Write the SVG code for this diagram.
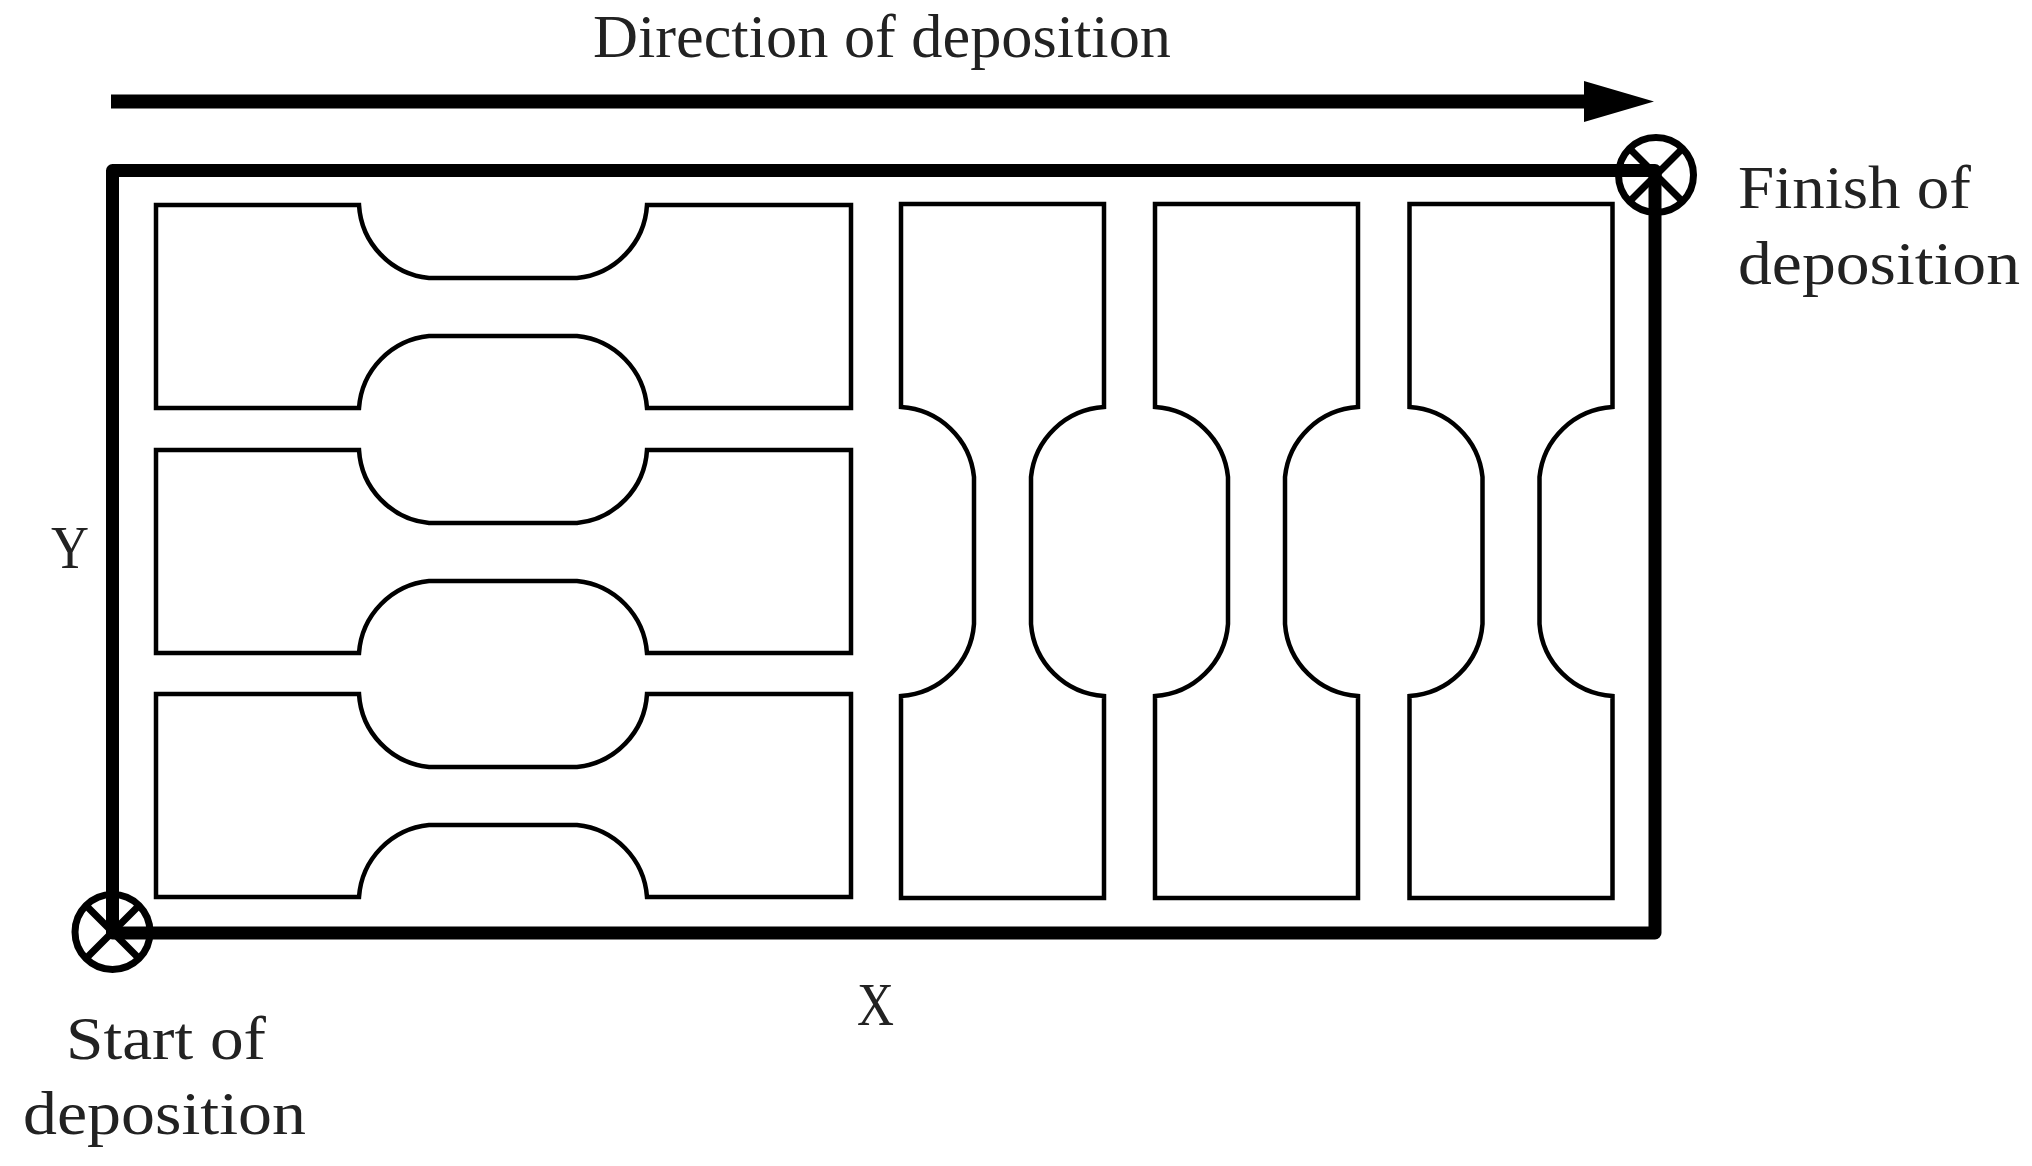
<svg xmlns="http://www.w3.org/2000/svg" width="2032" height="1166" viewBox="0 0 2032 1166">
<style>
.spec{fill:none;stroke:#000;stroke-width:4.5;stroke-linejoin:miter}
.frame{fill:none;stroke:#000;stroke-width:13;stroke-linejoin:round;stroke-linecap:round}
.mark{fill:none;stroke:#000;stroke-width:7}
text{font-family:"Liberation Serif","Times New Roman",serif;font-size:61px;fill:#222}
</style>
<defs>
<path id="h" d="M0 0H203A78 78 0 0 0 273 73H421A78 78 0 0 0 491 0H695V203H491A78 78 0 0 0 421 131H273A78 78 0 0 0 203 203H0Z"/>
<path id="v" d="M0 0H203V203A78 78 0 0 0 130 273V420A78 78 0 0 0 203 492V694H0V492A78 78 0 0 0 73 420V273A78 78 0 0 0 0 203Z"/>
<g id="x"><circle r="37.500"/><path d="M-26.500 -26.500L26.500 26.500M-26.500 26.500L26.500 -26.500"/></g>
</defs>
<g id="specimen-h1" class="spec"><use href="#h" x="156" y="205"/></g>
<g id="specimen-h2" class="spec"><use href="#h" x="156" y="450"/></g>
<g id="specimen-h3" class="spec"><use href="#h" x="156" y="694"/></g>
<g id="specimen-v1" class="spec"><use href="#v" x="901" y="204"/></g>
<g id="specimen-v2" class="spec"><use href="#v" x="1155" y="204"/></g>
<g id="specimen-v3" class="spec"><use href="#v" x="1409.500" y="204"/></g>
<g id="connectors">
<path class="frame" d="M112.500 932V170.500H1655V175"/>
<path class="frame" d="M112.500 932V933H1655V175"/>
<path d="M111 94.500H1584V81L1654 101.500L1584 122V108.500H111Z" fill="#000"/>
</g>
<g id="start-mark" class="mark"><use href="#x" x="112.500" y="932"/></g>
<g id="finish-mark" class="mark"><use href="#x" x="1656" y="175"/></g>
<g id="labels">
<text x="593" y="57" textLength="578" lengthAdjust="spacingAndGlyphs">Direction of deposition</text>
<text x="51" y="568" textLength="38" lengthAdjust="spacingAndGlyphs">Y</text>
<text x="857" y="1025" textLength="37" lengthAdjust="spacingAndGlyphs">X</text>
<text x="66" y="1059" textLength="200" lengthAdjust="spacingAndGlyphs">Start of</text>
<text x="23" y="1134" textLength="283" lengthAdjust="spacingAndGlyphs">deposition</text>
<text x="1738" y="208" textLength="233" lengthAdjust="spacingAndGlyphs">Finish of</text>
<text x="1738" y="284" textLength="282" lengthAdjust="spacingAndGlyphs">deposition</text>
</g>
</svg>
